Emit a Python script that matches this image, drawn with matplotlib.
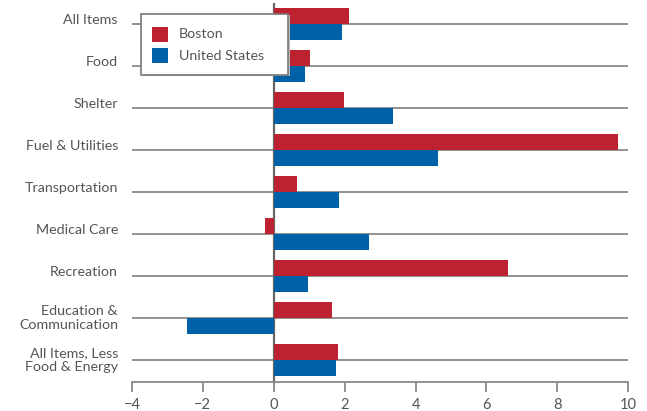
import numpy as np
import matplotlib.pyplot as plt
import matplotlib.transforms as mtransforms
from matplotlib.patches import Rectangle

plt.rcParams['font.family'] = ['Lato', 'DejaVu Sans']

categories = ['All Items', 'Food', 'Shelter', 'Fuel & Utilities', 'Transportation',
              'Medical Care', 'Recreation', 'Education &\nCommunication',
              'All Items, Less\nFood & Energy']
boston = [2.13, 1.01, 1.97, 9.72, 0.66, -0.25, 6.62, 1.63, 1.81]
united_states = [1.91, 0.87, 3.37, 4.62, 1.84, 2.69, 0.96, -2.44, 1.76]
series_names = ['Boston', 'United States']
xticks = [-4, -2, 0, 2, 4, 6, 8, 10]

red = '#be2230'
blue = '#0061a9'
grey_text = '#555555'
grey_line = '#888888'

W, H = 647, 411
fig = plt.figure(figsize=(W / 100, H / 100), dpi=100)
ax = fig.add_axes([132 / W, 1 - 381.7 / H, (628.3 - 132) / W, (381.7 - 3) / H])

y = np.arange(len(categories))
h = 0.38
ax.barh(y - h / 2, boston, height=h, color=red, zorder=3)
ax.barh(y + h / 2, united_states, height=h, color=blue, zorder=3)

# category lines across the whole plot and the zero line
ax.hlines(y, -4, 10, color=grey_line, lw=1.3, zorder=1)
ax.axvline(0, color='#666666', lw=1.6, zorder=2)

ax.set_xlim(-4, 10)
ax.set_ylim(8.52, -0.5)

# category labels: single lines sit just above their line, two-line ones centred on it
ax.set_yticks([])
for yi, label in zip(y, categories):
    dy = 0 if '\n' in label else 3.5
    tr = mtransforms.offset_copy(ax.transData, fig=fig, x=-14, y=dy, units='dots')
    ax.text(-4, yi, label, transform=tr, ha='right', va='center', fontsize=10.3,
            color=grey_text, linespacing=1.2, multialignment='right')

ax.set_xticks(xticks)
ax.set_xticklabels([str(t).replace('-', '\u2212') for t in xticks], fontsize=10.5, color=grey_text)
ax.tick_params(axis='x', length=7, width=1.3, color=grey_line, direction='out', pad=5)

for side in ['top', 'right', 'left']:
    ax.spines[side].set_visible(False)
ax.spines['bottom'].set_color(grey_line)
ax.spines['bottom'].set_linewidth(1.3)

# legend box drawn in pixel coordinates
px = mtransforms.Affine2D().scale(1 / W, -1 / H).translate(0, 1) + fig.transFigure
fig.patches.append(Rectangle((142.5, 15.5), 147, 61, transform=px, facecolor='#bbbbbb',
                             edgecolor='none', zorder=4))
fig.patches.append(Rectangle((141, 14), 147, 61, transform=px, facecolor='white',
                             edgecolor='#777777', lw=1.2, zorder=5))
for name, color, top in zip(series_names, [red, blue], [26.7, 48.5]):
    fig.patches.append(Rectangle((152, top), 16, 15, transform=px, facecolor=color,
                                 edgecolor='none', zorder=6))
    fig.text(179, top + 7.5, name, transform=px, ha='left', va='center', fontsize=10.3,
             color=grey_text, zorder=7)

fig.savefig('out.png', dpi=100)
